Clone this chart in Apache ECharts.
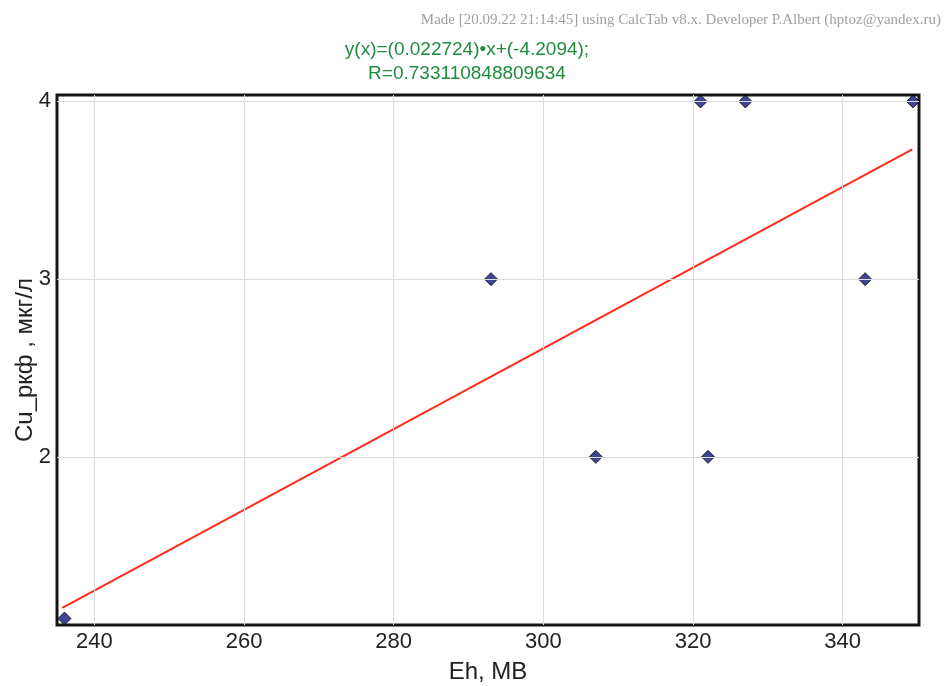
<!DOCTYPE html>
<html>
<head>
<meta charset="utf-8">
<script src="https://cdn.jsdelivr.net/npm/echarts@6/dist/echarts.min.js"></script>
<style>
html,body{margin:0;padding:0;background:#fff;}
#main{width:950px;height:686px;}
</style>
</head>
<body>
<div id="main"></div>
<script>
// Data
const pointsX = [236, 293, 307, 321, 322, 327, 343, 349.4];
const pointsY = [1.09, 3, 2, 4, 2, 4, 3, 4];
const fitX = [235.7, 349.3];
const fitY = [1.15, 3.73];
const xTicks = [240, 260, 280, 300, 320, 340];
const yTicks = [2, 3, 4];
const xRange = [235.0, 350.2];
const yRange = [1.054, 4.036];
const titleLines = ['y(x)=(0.022724)•x+(-4.2094);', 'R=0.733110848809634'];
const credit = 'Made [20.09.22 21:14:45] using CalcTab v8.x. Developer P.Albert (hptoz@yandex.ru)';
const xName = 'Eh, МВ';
const yName = 'Cu_ркф , мкг/л';

const chart = echarts.init(document.getElementById('main'), null, {renderer: 'canvas'});

const gridLineStyle = {color: '#dcdcdc', width: 1, type: 'solid'};
const gridLines = xTicks.map(v => ({xAxis: v})).concat(yTicks.map(v => ({yAxis: v})));

chart.setOption({
  backgroundColor: '#ffffff',
  animation: false,
  title: [
    {
      text: titleLines.join('\n'),
      left: 462, top: 33, textAlign: 'center',
      textStyle: {color: '#1e8c3c', fontSize: 19, fontWeight: 'normal', fontFamily: 'Liberation Sans Narrow, Liberation Sans, Arial, sans-serif', lineHeight: 24}
    },
    {
      text: credit,
      right: 4, top: 8,
      textStyle: {color: '#a0a0a0', fontSize: 15, fontWeight: 'normal', fontFamily: 'Liberation Serif, serif'}
    }
  ],
  grid: {
    left: 57, top: 95, width: 862, height: 530,
    outerBoundsMode: 'none',
    show: true, borderColor: '#151515', borderWidth: 3, backgroundColor: '#ffffff',
    containLabel: false
  },
  xAxis: {
    type: 'value', min: xRange[0], max: xRange[1],
    name: xName, nameLocation: 'middle', nameGap: 35, nameMoveOverlap: false,
    nameTextStyle: {color: '#222', fontSize: 24, fontFamily: 'Liberation Sans, Arial, sans-serif'},
    axisLine: {show: false},
    axisTick: {show: true, inside: true, length: 4, customValues: xTicks, lineStyle: {color: '#aaa'}},
    axisLabel: {customValues: xTicks, color: '#222', fontSize: 22, margin: 6, fontFamily: 'Liberation Sans, Arial, sans-serif'},
    splitLine: {show: false}
  },
  yAxis: {
    type: 'value', min: yRange[0], max: yRange[1],
    name: yName, nameLocation: 'middle', nameGap: 20, nameRotate: 90, nameMoveOverlap: false,
    nameTextStyle: {color: '#222', fontSize: 24, fontFamily: 'Liberation Sans, Arial, sans-serif'},
    axisLine: {show: false},
    axisTick: {show: true, inside: true, length: 4, customValues: yTicks, lineStyle: {color: '#aaa'}},
    axisLabel: {customValues: yTicks, color: '#222', fontSize: 22, margin: 6, fontFamily: 'Liberation Sans, Arial, sans-serif'},
    splitLine: {show: false}
  },
  series: [
    {
      type: 'line', data: [], z: 1, silent: true,
      markLine: {
        symbol: 'none', silent: true, label: {show: false},
        lineStyle: gridLineStyle, animation: false,
        data: gridLines
      }
    },
    {
      type: 'line', z: 3,
      data: fitX.map((x, i) => [x, fitY[i]]),
      symbol: 'none',
      lineStyle: {color: '#ff2a1a', width: 2}
    },
    {
      type: 'scatter', z: 4,
      data: pointsX.map((x, i) => [x, pointsY[i]]),
      symbol: 'diamond', symbolSize: 13,
      itemStyle: {color: '#10187a', borderColor: '#000', borderWidth: 1},
      clip: false
    }
  ]
});
</script>
</body>
</html>
